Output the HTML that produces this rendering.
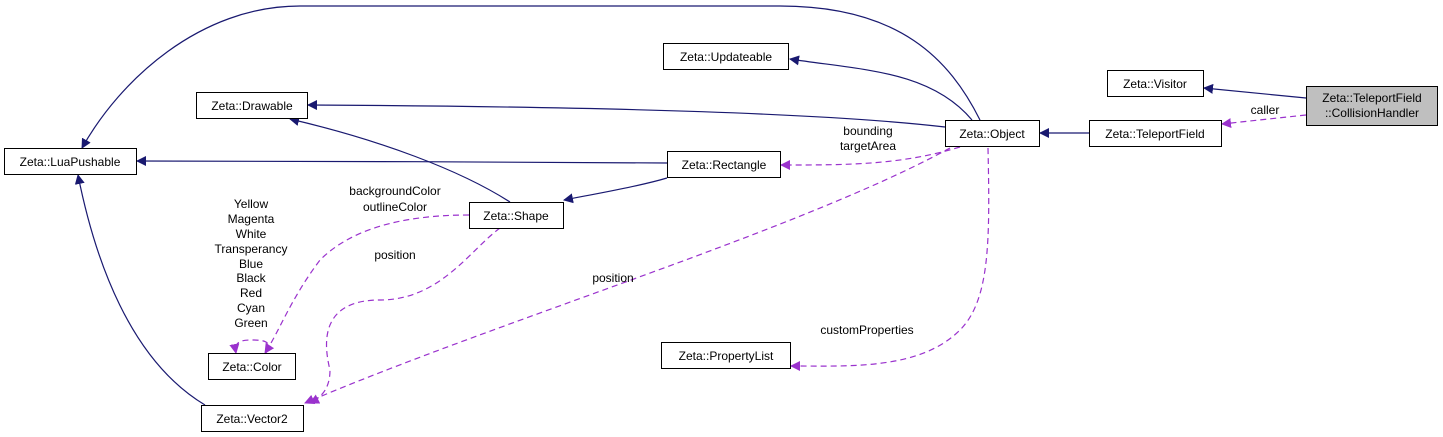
<!DOCTYPE html>
<html><head><meta charset="utf-8"><style>
html,body{margin:0;padding:0;background:#fff;}
svg{display:block;}
text{font-family:"Liberation Sans",Helvetica,sans-serif;font-size:12px;fill:#000;}
</style></head><body>
<svg width="1443" height="437" viewBox="0 0 1443 437" xmlns="http://www.w3.org/2000/svg">
<defs>
<marker id="an" markerWidth="10" markerHeight="10" refX="9" refY="5" orient="auto" markerUnits="userSpaceOnUse"><path d="M0,0 L10,5 L0,10 Z" fill="#191970"/></marker>
<marker id="ap" markerWidth="10" markerHeight="10" refX="9" refY="5" orient="auto" markerUnits="userSpaceOnUse"><path d="M0,0 L10,5 L0,10 Z" fill="#9a32cd"/></marker>
</defs>
<g fill="none" stroke="#191970" stroke-width="1.2">
<path d="M980,120 C950,60 900,6 780,6 L300,6 C200,6 120,80 82,148" marker-end="url(#an)"/>
<path d="M972,120 C930,70 860,70 790,59" marker-end="url(#an)"/>
<path d="M945,127 C800,110 500,106 308,105" marker-end="url(#an)"/>
<path d="M667,163 C500,162 300,161 137,161" marker-end="url(#an)"/>
<path d="M510,202 C460,170 380,140 290,119" marker-end="url(#an)"/>
<path d="M667,178 C640,186 600,193 564,200" marker-end="url(#an)"/>
<path d="M205,405 C130,360 95,260 78,175" marker-end="url(#an)"/>
<path d="M1089,133 L1040,133" marker-end="url(#an)"/>
<path d="M1306,98 L1204,88" marker-end="url(#an)"/>
</g>
<g fill="none" stroke="#9a32cd" stroke-width="1.2" stroke-dasharray="6,4">
<path d="M1306,115 L1222,124" marker-end="url(#ap)"/>
<path d="M960,147 C900,165 850,165 781,165" marker-end="url(#ap)"/>
<path d="M950,148 C800,230 500,320 305,403" marker-end="url(#ap)"/>
<path d="M988,148 C990,240 990,300 960,330 C920,370 850,366 791,366" marker-end="url(#ap)"/>
<path d="M469,215 C400,215 350,230 320,260 C290,300 280,330 265,353" marker-end="url(#ap)"/>
<path d="M500,228 C470,250 440,300 380,300 C330,300 320,330 330,370 C330,390 320,398 310,403" marker-end="url(#ap)"/>
<path d="M266,353 C272,342 266,340 252,340 C240,340 234,342 236,353" marker-end="url(#ap)"/>
</g>
<g stroke="#000" stroke-width="1" fill="#fff">
<rect x="4.5" y="148.5" width="132" height="26"/>
<rect x="196.5" y="92.5" width="111" height="26"/>
<rect x="663.5" y="43.5" width="125" height="26"/>
<rect x="945.5" y="120.5" width="94" height="26"/>
<rect x="1089.5" y="120.5" width="132" height="26"/>
<rect x="1107.5" y="70.5" width="96" height="26"/>
<rect x="1306.5" y="86.5" width="131" height="39" fill="#bfbfbf"/>
<rect x="667.5" y="151.5" width="113" height="26"/>
<rect x="469.5" y="202.5" width="94" height="26"/>
<rect x="208.5" y="353.5" width="87" height="26"/>
<rect x="201.5" y="405.5" width="102" height="26"/>
<rect x="661.5" y="342.5" width="129" height="26"/>
</g>
<g text-anchor="middle">
<text x="70" y="166">Zeta::LuaPushable</text>
<text x="252" y="110">Zeta::Drawable</text>
<text x="726" y="61">Zeta::Updateable</text>
<text x="992" y="138">Zeta::Object</text>
<text x="1155" y="138">Zeta::TeleportField</text>
<text x="1155" y="88">Zeta::Visitor</text>
<text x="1372" y="102">Zeta::TeleportField</text>
<text x="1372" y="117">::CollisionHandler</text>
<text x="724" y="169">Zeta::Rectangle</text>
<text x="516" y="220">Zeta::Shape</text>
<text x="252" y="371">Zeta::Color</text>
<text x="252" y="423">Zeta::Vector2</text>
<text x="726" y="360">Zeta::PropertyList</text>
<text x="1265" y="114">caller</text>
<text x="868" y="135">bounding</text>
<text x="868" y="150">targetArea</text>
<text x="613" y="282">position</text>
<text x="867" y="334">customProperties</text>
<text x="395" y="195">backgroundColor</text>
<text x="395" y="211">outlineColor</text>
<text x="395" y="259">position</text>
<text x="251" y="208">Yellow</text>
<text x="251" y="223">Magenta</text>
<text x="251" y="238">White</text>
<text x="251" y="253">Transperancy</text>
<text x="251" y="268">Blue</text>
<text x="251" y="282">Black</text>
<text x="251" y="297">Red</text>
<text x="251" y="312">Cyan</text>
<text x="251" y="327">Green</text>
</g>
</svg>
</body></html>
